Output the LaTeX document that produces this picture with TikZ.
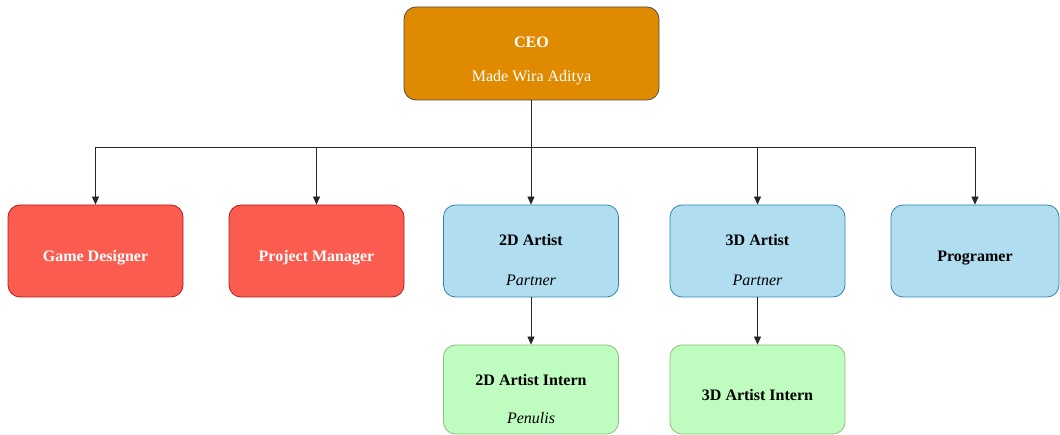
\documentclass[tikz,border=0pt]{standalone}
\usepackage{fontspec}
\setmainfont{Liberation Serif}
\usetikzlibrary{arrows.meta,positioning}
\definecolor{ceofill}{HTML}{DF8A00}
\definecolor{ceoline}{HTML}{4D4D4D}
\definecolor{redfill}{HTML}{FA5C50}
\definecolor{redline}{HTML}{B81A1A}
\definecolor{bluefill}{HTML}{B1DDF0}
\definecolor{blueline}{HTML}{2E86B0}
\definecolor{greenfill}{HTML}{BFFCBF}
\definecolor{greenline}{HTML}{8CC07A}
\tikzset{
  box/.style = {rounded corners=12pt, line width=0.8pt, inner sep=0pt, minimum width=175pt, minimum height=92pt},
  ceo_box/.style = {box, fill=ceofill, draw=ceoline, minimum width=255pt, minimum height=93pt},
  red_box/.style = {box, fill=redfill, draw=redline},
  blue_box/.style = {box, fill=bluefill, draw=blueline},
  green_box/.style = {box, fill=greenfill, draw=greenline, minimum height=89pt},
  ttl/.style = {font=\fontsize{16}{19}\selectfont\bfseries, inner sep=0pt, text height=11pt, text depth=0pt},
  sub/.style = {font=\fontsize{16}{19}\selectfont\itshape, inner sep=0pt, text height=11pt, text depth=0pt},
  link/.style = {draw=black!85, line width=0.8pt},
  arrow/.style = {link, -{Triangle[length=8pt,width=7pt]}},
}
\begin{document}
\begin{tikzpicture}[x=1pt, y=-1pt]
  \useasboundingbox (0,0) rectangle (1060,435);
  % top
  \node [ceo_box] (ceo) at (531.5,53.5) {};
  \node [ttl, white, anchor=base] (ceo_t) at (531.5,48) {CEO};
  \node [sub, white, font=\fontsize{16}{19}\selectfont, anchor=base] (ceo_s) at (531.5,82) {Made Wira Aditya};
  % second row
  \node [red_box] (gd) at (95.5,251) {};
  \node [ttl, white, anchor=base] (gd_t) at (gd.center) [yshift=-11pt] {Game Designer};
  \node [red_box] (pm) at (316.5,251) {};
  \node [ttl, white, anchor=base] (pm_t) at (pm.center) [yshift=-11pt] {Project Manager};
  \node [blue_box] (art2) at (531,251) {};
  \node [ttl, anchor=base] (art2_t) at (531,246) {2D Artist};
  \node [sub, anchor=base] (art2_s) at (531,286) {Partner};
  \node [blue_box] (art3) at (757.5,251) {};
  \node [ttl, anchor=base] (art3_t) at (757.5,246) {3D Artist};
  \node [sub, anchor=base] (art3_s) at (757.5,286) {Partner};
  \node [blue_box, minimum width=168pt] (prog) at (975,251) {};
  \node [ttl, anchor=base] (prog_t) at (prog.center) [yshift=-11pt] {Programer};
  % third row
  \node [green_box] (int2) at (531,389.5) {};
  \node [ttl, anchor=base] (int2_t) at (531,385) {2D Artist Intern};
  \node [sub, anchor=base] (int2_s) at (531,424) {Penulis};
  \node [green_box] (int3) at (757.5,389.5) {};
  \node [ttl, anchor=base] (int3_t) at (int3.center) [yshift=-11pt] {3D Artist Intern};
  % connectors
  \coordinate (bus) at (531.5,147);
  \draw [link] (ceo.south) -- (bus);
  \draw [link] (gd.north |- bus) -- (prog.north |- bus);
  \foreach \k in {gd, pm, art2, art3, prog}
    \draw [arrow] (\k.north |- bus) -- (\k.north);
  \draw [arrow] (art2.south) -- (int2.north);
  \draw [arrow] (art3.south) -- (int3.north);
\end{tikzpicture}
\end{document}
